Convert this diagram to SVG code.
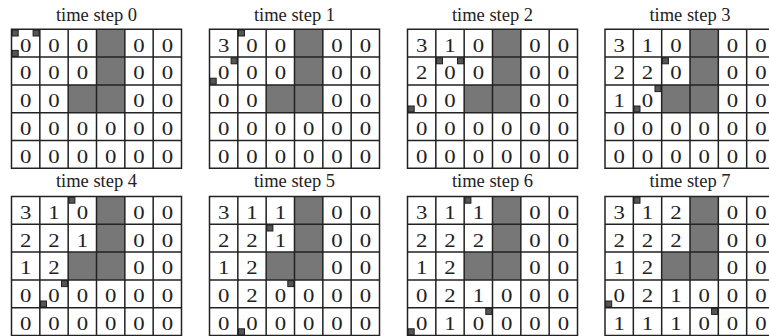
<svg xmlns="http://www.w3.org/2000/svg" xmlns:xlink="http://www.w3.org/1999/xlink" width="769" height="336" viewBox="0 0 769 336">
<style>
.t{font-family:"Liberation Serif","Times New Roman",serif;font-size:18.5px;fill:#222;text-anchor:middle}
.d{font-family:"Liberation Serif","Times New Roman",serif;font-size:19px;fill:#222;text-anchor:middle}
.gc{fill:#777}
.ln{stroke:#222;stroke-width:1.5;fill:none}
.sq{fill:#555;stroke:#1e1e1e;stroke-width:1}
</style>
<defs>
<g id="base">
<rect class="gc" x="85" y="0" width="28.33" height="83.4"/>
<rect class="gc" x="56.67" y="55.6" width="28.33" height="27.8"/>
<path class="ln" d="M0 0H170V139H0Z M28.33 0V139 M56.67 0V139 M85 0V139 M113.33 0V139 M141.67 0V139 M0 27.8H170 M0 55.6H170 M0 83.4H170 M0 111.2H170"/>
</g>
</defs>
<rect width="769" height="336" fill="#fff"/>
<g id="titles">
<text class="t" x="96.5" y="20.5">time step 0</text>
<text class="t" x="294.5" y="20.5">time step 1</text>
<text class="t" x="492.5" y="20.5">time step 2</text>
<text class="t" x="690" y="20.5">time step 3</text>
<text class="t" x="96.5" y="187">time step 4</text>
<text class="t" x="294.5" y="187">time step 5</text>
<text class="t" x="492.5" y="187">time step 6</text>
<text class="t" x="690" y="187">time step 7</text>
</g>
<g id="step0" transform="translate(11.5,29.3)">
<use xlink:href="#base"/>
<g transform="scale(1.2,1)">
<text class="d" x="11.81" y="22.3">0</text><text class="d" x="35.42" y="22.3">0</text><text class="d" x="59.03" y="22.3">0</text><text class="d" x="106.25" y="22.3">0</text><text class="d" x="129.86" y="22.3">0</text>
<text class="d" x="11.81" y="50.1">0</text><text class="d" x="35.42" y="50.1">0</text><text class="d" x="59.03" y="50.1">0</text><text class="d" x="106.25" y="50.1">0</text><text class="d" x="129.86" y="50.1">0</text>
<text class="d" x="11.81" y="77.9">0</text><text class="d" x="35.42" y="77.9">0</text><text class="d" x="106.25" y="77.9">0</text><text class="d" x="129.86" y="77.9">0</text>
<text class="d" x="11.81" y="105.7">0</text><text class="d" x="35.42" y="105.7">0</text><text class="d" x="59.03" y="105.7">0</text><text class="d" x="82.64" y="105.7">0</text><text class="d" x="106.25" y="105.7">0</text><text class="d" x="129.86" y="105.7">0</text>
<text class="d" x="11.81" y="133.5">0</text><text class="d" x="35.42" y="133.5">0</text><text class="d" x="59.03" y="133.5">0</text><text class="d" x="82.64" y="133.5">0</text><text class="d" x="106.25" y="133.5">0</text><text class="d" x="129.86" y="133.5">0</text>
</g>
<rect class="sq" x="0.7" y="0.7" width="6" height="6"/><rect class="sq" x="21.6" y="0.7" width="6" height="6"/><rect class="sq" x="0.7" y="21.1" width="6" height="6"/>
</g>
<g id="step1" transform="translate(209.5,29.3)">
<use xlink:href="#base"/>
<g transform="scale(1.2,1)">
<text class="d" x="11.81" y="22.3">3</text><text class="d" x="35.42" y="22.3">0</text><text class="d" x="59.03" y="22.3">0</text><text class="d" x="106.25" y="22.3">0</text><text class="d" x="129.86" y="22.3">0</text>
<text class="d" x="11.81" y="50.1">0</text><text class="d" x="35.42" y="50.1">0</text><text class="d" x="59.03" y="50.1">0</text><text class="d" x="106.25" y="50.1">0</text><text class="d" x="129.86" y="50.1">0</text>
<text class="d" x="11.81" y="77.9">0</text><text class="d" x="35.42" y="77.9">0</text><text class="d" x="106.25" y="77.9">0</text><text class="d" x="129.86" y="77.9">0</text>
<text class="d" x="11.81" y="105.7">0</text><text class="d" x="35.42" y="105.7">0</text><text class="d" x="59.03" y="105.7">0</text><text class="d" x="82.64" y="105.7">0</text><text class="d" x="106.25" y="105.7">0</text><text class="d" x="129.86" y="105.7">0</text>
<text class="d" x="11.81" y="133.5">0</text><text class="d" x="35.42" y="133.5">0</text><text class="d" x="59.03" y="133.5">0</text><text class="d" x="82.64" y="133.5">0</text><text class="d" x="106.25" y="133.5">0</text><text class="d" x="129.86" y="133.5">0</text>
</g>
<rect class="sq" x="29" y="0.7" width="6" height="6"/><rect class="sq" x="21.6" y="28.5" width="6" height="6"/><rect class="sq" x="0.7" y="48.9" width="6" height="6"/>
</g>
<g id="step2" transform="translate(407.5,29.3)">
<use xlink:href="#base"/>
<g transform="scale(1.2,1)">
<text class="d" x="11.81" y="22.3">3</text><text class="d" x="35.42" y="22.3">1</text><text class="d" x="59.03" y="22.3">0</text><text class="d" x="106.25" y="22.3">0</text><text class="d" x="129.86" y="22.3">0</text>
<text class="d" x="11.81" y="50.1">2</text><text class="d" x="35.42" y="50.1">0</text><text class="d" x="59.03" y="50.1">0</text><text class="d" x="106.25" y="50.1">0</text><text class="d" x="129.86" y="50.1">0</text>
<text class="d" x="11.81" y="77.9">0</text><text class="d" x="35.42" y="77.9">0</text><text class="d" x="106.25" y="77.9">0</text><text class="d" x="129.86" y="77.9">0</text>
<text class="d" x="11.81" y="105.7">0</text><text class="d" x="35.42" y="105.7">0</text><text class="d" x="59.03" y="105.7">0</text><text class="d" x="82.64" y="105.7">0</text><text class="d" x="106.25" y="105.7">0</text><text class="d" x="129.86" y="105.7">0</text>
<text class="d" x="11.81" y="133.5">0</text><text class="d" x="35.42" y="133.5">0</text><text class="d" x="59.03" y="133.5">0</text><text class="d" x="82.64" y="133.5">0</text><text class="d" x="106.25" y="133.5">0</text><text class="d" x="129.86" y="133.5">0</text>
</g>
<rect class="sq" x="29" y="28.5" width="6" height="6"/><rect class="sq" x="50" y="28.5" width="6" height="6"/><rect class="sq" x="0.7" y="76.7" width="6" height="6"/>
</g>
<g id="step3" transform="translate(605,29.3)">
<use xlink:href="#base"/>
<g transform="scale(1.2,1)">
<text class="d" x="11.81" y="22.3">3</text><text class="d" x="35.42" y="22.3">1</text><text class="d" x="59.03" y="22.3">0</text><text class="d" x="106.25" y="22.3">0</text><text class="d" x="129.86" y="22.3">0</text>
<text class="d" x="11.81" y="50.1">2</text><text class="d" x="35.42" y="50.1">2</text><text class="d" x="59.03" y="50.1">0</text><text class="d" x="106.25" y="50.1">0</text><text class="d" x="129.86" y="50.1">0</text>
<text class="d" x="11.81" y="77.9">1</text><text class="d" x="35.42" y="77.9">0</text><text class="d" x="106.25" y="77.9">0</text><text class="d" x="129.86" y="77.9">0</text>
<text class="d" x="11.81" y="105.7">0</text><text class="d" x="35.42" y="105.7">0</text><text class="d" x="59.03" y="105.7">0</text><text class="d" x="82.64" y="105.7">0</text><text class="d" x="106.25" y="105.7">0</text><text class="d" x="129.86" y="105.7">0</text>
<text class="d" x="11.81" y="133.5">0</text><text class="d" x="35.42" y="133.5">0</text><text class="d" x="59.03" y="133.5">0</text><text class="d" x="82.64" y="133.5">0</text><text class="d" x="106.25" y="133.5">0</text><text class="d" x="129.86" y="133.5">0</text>
</g>
<rect class="sq" x="57.4" y="28.5" width="6" height="6"/><rect class="sq" x="50" y="56.3" width="6" height="6"/><rect class="sq" x="29" y="76.7" width="6" height="6"/>
</g>
<g id="step4" transform="translate(11.5,196.5)">
<use xlink:href="#base"/>
<g transform="scale(1.2,1)">
<text class="d" x="11.81" y="22.3">3</text><text class="d" x="35.42" y="22.3">1</text><text class="d" x="59.03" y="22.3">0</text><text class="d" x="106.25" y="22.3">0</text><text class="d" x="129.86" y="22.3">0</text>
<text class="d" x="11.81" y="50.1">2</text><text class="d" x="35.42" y="50.1">2</text><text class="d" x="59.03" y="50.1">1</text><text class="d" x="106.25" y="50.1">0</text><text class="d" x="129.86" y="50.1">0</text>
<text class="d" x="11.81" y="77.9">1</text><text class="d" x="35.42" y="77.9">2</text><text class="d" x="106.25" y="77.9">0</text><text class="d" x="129.86" y="77.9">0</text>
<text class="d" x="11.81" y="105.7">0</text><text class="d" x="35.42" y="105.7">0</text><text class="d" x="59.03" y="105.7">0</text><text class="d" x="82.64" y="105.7">0</text><text class="d" x="106.25" y="105.7">0</text><text class="d" x="129.86" y="105.7">0</text>
<text class="d" x="11.81" y="133.5">0</text><text class="d" x="35.42" y="133.5">0</text><text class="d" x="59.03" y="133.5">0</text><text class="d" x="82.64" y="133.5">0</text><text class="d" x="106.25" y="133.5">0</text><text class="d" x="129.86" y="133.5">0</text>
</g>
<rect class="sq" x="57.4" y="0.7" width="6" height="6"/><rect class="sq" x="50" y="84.1" width="6" height="6"/><rect class="sq" x="29" y="104.5" width="6" height="6"/>
</g>
<g id="step5" transform="translate(209.5,196.5)">
<use xlink:href="#base"/>
<g transform="scale(1.2,1)">
<text class="d" x="11.81" y="22.3">3</text><text class="d" x="35.42" y="22.3">1</text><text class="d" x="59.03" y="22.3">1</text><text class="d" x="106.25" y="22.3">0</text><text class="d" x="129.86" y="22.3">0</text>
<text class="d" x="11.81" y="50.1">2</text><text class="d" x="35.42" y="50.1">2</text><text class="d" x="59.03" y="50.1">1</text><text class="d" x="106.25" y="50.1">0</text><text class="d" x="129.86" y="50.1">0</text>
<text class="d" x="11.81" y="77.9">1</text><text class="d" x="35.42" y="77.9">2</text><text class="d" x="106.25" y="77.9">0</text><text class="d" x="129.86" y="77.9">0</text>
<text class="d" x="11.81" y="105.7">0</text><text class="d" x="35.42" y="105.7">2</text><text class="d" x="59.03" y="105.7">0</text><text class="d" x="82.64" y="105.7">0</text><text class="d" x="106.25" y="105.7">0</text><text class="d" x="129.86" y="105.7">0</text>
<text class="d" x="11.81" y="133.5">0</text><text class="d" x="35.42" y="133.5">0</text><text class="d" x="59.03" y="133.5">0</text><text class="d" x="82.64" y="133.5">0</text><text class="d" x="106.25" y="133.5">0</text><text class="d" x="129.86" y="133.5">0</text>
</g>
<rect class="sq" x="57.4" y="28.5" width="6" height="6"/><rect class="sq" x="78.3" y="84.1" width="6" height="6"/><rect class="sq" x="29" y="132.3" width="6" height="6"/>
</g>
<g id="step6" transform="translate(407.5,196.5)">
<use xlink:href="#base"/>
<g transform="scale(1.2,1)">
<text class="d" x="11.81" y="22.3">3</text><text class="d" x="35.42" y="22.3">1</text><text class="d" x="59.03" y="22.3">1</text><text class="d" x="106.25" y="22.3">0</text><text class="d" x="129.86" y="22.3">0</text>
<text class="d" x="11.81" y="50.1">2</text><text class="d" x="35.42" y="50.1">2</text><text class="d" x="59.03" y="50.1">2</text><text class="d" x="106.25" y="50.1">0</text><text class="d" x="129.86" y="50.1">0</text>
<text class="d" x="11.81" y="77.9">1</text><text class="d" x="35.42" y="77.9">2</text><text class="d" x="106.25" y="77.9">0</text><text class="d" x="129.86" y="77.9">0</text>
<text class="d" x="11.81" y="105.7">0</text><text class="d" x="35.42" y="105.7">2</text><text class="d" x="59.03" y="105.7">1</text><text class="d" x="82.64" y="105.7">0</text><text class="d" x="106.25" y="105.7">0</text><text class="d" x="129.86" y="105.7">0</text>
<text class="d" x="11.81" y="133.5">0</text><text class="d" x="35.42" y="133.5">1</text><text class="d" x="59.03" y="133.5">0</text><text class="d" x="82.64" y="133.5">0</text><text class="d" x="106.25" y="133.5">0</text><text class="d" x="129.86" y="133.5">0</text>
</g>
<rect class="sq" x="57.4" y="0.7" width="6" height="6"/><rect class="sq" x="78.3" y="111.9" width="6" height="6"/><rect class="sq" x="0.7" y="132.3" width="6" height="6"/>
</g>
<g id="step7" transform="translate(605,196.5)">
<use xlink:href="#base"/>
<g transform="scale(1.2,1)">
<text class="d" x="11.81" y="22.3">3</text><text class="d" x="35.42" y="22.3">1</text><text class="d" x="59.03" y="22.3">2</text><text class="d" x="106.25" y="22.3">0</text><text class="d" x="129.86" y="22.3">0</text>
<text class="d" x="11.81" y="50.1">2</text><text class="d" x="35.42" y="50.1">2</text><text class="d" x="59.03" y="50.1">2</text><text class="d" x="106.25" y="50.1">0</text><text class="d" x="129.86" y="50.1">0</text>
<text class="d" x="11.81" y="77.9">1</text><text class="d" x="35.42" y="77.9">2</text><text class="d" x="106.25" y="77.9">0</text><text class="d" x="129.86" y="77.9">0</text>
<text class="d" x="11.81" y="105.7">0</text><text class="d" x="35.42" y="105.7">2</text><text class="d" x="59.03" y="105.7">1</text><text class="d" x="82.64" y="105.7">0</text><text class="d" x="106.25" y="105.7">0</text><text class="d" x="129.86" y="105.7">0</text>
<text class="d" x="11.81" y="133.5">1</text><text class="d" x="35.42" y="133.5">1</text><text class="d" x="59.03" y="133.5">1</text><text class="d" x="82.64" y="133.5">0</text><text class="d" x="106.25" y="133.5">0</text><text class="d" x="129.86" y="133.5">0</text>
</g>
<rect class="sq" x="29" y="0.7" width="6" height="6"/><rect class="sq" x="106.6" y="111.9" width="6" height="6"/><rect class="sq" x="0.7" y="104.5" width="6" height="6"/>
</g>
</svg>
